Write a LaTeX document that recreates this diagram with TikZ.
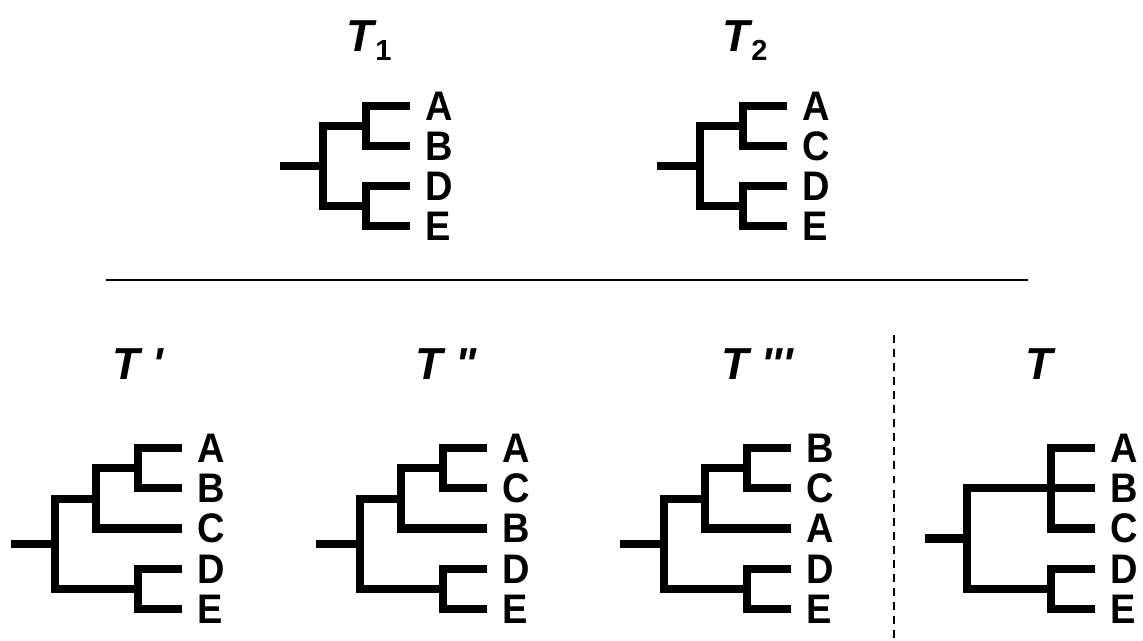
\documentclass[tikz,border=0pt]{standalone}
\usepackage{fontspec}
\setmainfont{Liberation Sans}
\newfontfamily\leaffont{Liberation Sans}[FakeStretch=0.92]
\newfontfamily\titlefont{Liberation Sans}
\tikzset{
	branch/.style={line width=4.8pt},
	leaf/.style={anchor=west, inner xsep=8.5pt, inner ysep=0pt, font=\leaffont\bfseries\fontsize{23.5}{23.5}\selectfont},
	treename/.style={anchor=base west, inner sep=0pt, font=\titlefont\bfseries\itshape\fontsize{25.5}{25.5}\selectfont}
}
\newcommand{\subnum}[1]{{\upshape\fontsize{16.5}{16.5}\selectfont\raisebox{-0.17cm}{#1}}}

\begin{document}
\begin{tikzpicture}[x=0.02cm, y=-0.02cm]
			%%%%% START %%%%%
			\useasboundingbox (0,0) rectangle (1143,641);
			
			%%%%% T1 %%%%%
			\node[treename] (n1) at (346,52) {T\kern1pt\subnum{1}};
			\coordinate (t1s) at (280,166);
			\coordinate (t1r) at (323,166);
			\coordinate (t1ab) at (366,126);
			\coordinate (t1de) at (366,206);
			\node[leaf] (t1A) at (410,106) {A};
			\node[leaf] (t1B) at (410,146) {B};
			\node[leaf] (t1D) at (410,186) {D};
			\node[leaf] (t1E) at (410,226) {E};
			\draw[branch] (t1A.west) -| (t1ab) |- (t1B.west);
			\draw[branch] (t1D.west) -| (t1de) |- (t1E.west);
			\draw[branch] (t1ab) -| (t1r) |- (t1de);
			\draw[branch] (t1s) -- (t1r);
			
			%%%%% T2 %%%%%
			\node[treename] (n2) at (722,52) {T\kern1pt\subnum{2}};
			\coordinate (t2s) at (657,166);
			\coordinate (t2r) at (700,166);
			\coordinate (t2ac) at (743,126);
			\coordinate (t2de) at (743,206);
			\node[leaf] (t2A) at (787,106) {A};
			\node[leaf] (t2C) at (787,146) {C};
			\node[leaf] (t2D) at (787,186) {D};
			\node[leaf] (t2E) at (787,226) {E};
			\draw[branch] (t2A.west) -| (t2ac) |- (t2C.west);
			\draw[branch] (t2D.west) -| (t2de) |- (t2E.west);
			\draw[branch] (t2ac) -| (t2r) |- (t2de);
			\draw[branch] (t2s) -- (t2r);
			
			%%%%% separators %%%%%
			\coordinate (rl) at (106,280);
			\coordinate (rr) at (1028,280);
			\draw[line width=1.1pt] (rl) -- (rr);
			\coordinate (dt) at (894,335);
			\coordinate (db) at (894,641);
			\draw[line width=1.1pt, dash pattern=on 4.5pt off 3.5pt] (dt) -- (db);
			
			%%%%% T' %%%%%
			\node[treename] (na) at (112,380) {T '};
			\coordinate (tas) at (11,544);
			\coordinate (tar) at (55,544);
			\coordinate (taabc) at (96,499);
			\coordinate (taab) at (138,468);
			\coordinate (tade) at (138,589);
			\node[leaf] (taA) at (182,448) {A};
			\node[leaf] (taB) at (182,488) {B};
			\node[leaf] (taC) at (182,528.5) {C};
			\node[leaf] (taD) at (182,569) {D};
			\node[leaf] (taE) at (182,609) {E};
			\draw[branch] (taA.west) -| (taab) |- (taB.west);
			\draw[branch] (taab) -| (taabc) |- (taC.west);
			\draw[branch] (taD.west) -| (tade) |- (taE.west);
			\draw[branch] (taabc) -| (tar) |- (tade);
			\draw[branch] (tas) -- (tar);
			
			%%%%% T'' %%%%%
			\node[treename] (nb) at (415,380) {T "};
			\coordinate (tbs) at (316,544);
			\coordinate (tbr) at (360,544);
			\coordinate (tbacb) at (401,499);
			\coordinate (tbac) at (443,468);
			\coordinate (tbde) at (443,589);
			\node[leaf] (tbA) at (487,448) {A};
			\node[leaf] (tbC) at (487,488) {C};
			\node[leaf] (tbB) at (487,528.5) {B};
			\node[leaf] (tbD) at (487,569) {D};
			\node[leaf] (tbE) at (487,609) {E};
			\draw[branch] (tbA.west) -| (tbac) |- (tbC.west);
			\draw[branch] (tbac) -| (tbacb) |- (tbB.west);
			\draw[branch] (tbD.west) -| (tbde) |- (tbE.west);
			\draw[branch] (tbacb) -| (tbr) |- (tbde);
			\draw[branch] (tbs) -- (tbr);
			
			%%%%% T''' %%%%%
			\node[treename] (nc) at (721,380) {T '''};
			\coordinate (tcs) at (620,544);
			\coordinate (tcr) at (664,544);
			\coordinate (tcbca) at (705,499);
			\coordinate (tcbc) at (747,468);
			\coordinate (tcde) at (747,589);
			\node[leaf] (tcB) at (791,448) {B};
			\node[leaf] (tcC) at (791,488) {C};
			\node[leaf] (tcA) at (791,528.5) {A};
			\node[leaf] (tcD) at (791,569) {D};
			\node[leaf] (tcE) at (791,609) {E};
			\draw[branch] (tcB.west) -| (tcbc) |- (tcC.west);
			\draw[branch] (tcbc) -| (tcbca) |- (tcA.west);
			\draw[branch] (tcD.west) -| (tcde) |- (tcE.west);
			\draw[branch] (tcbca) -| (tcr) |- (tcde);
			\draw[branch] (tcs) -- (tcr);
			
			%%%%% T %%%%%
			\node[treename] (nd) at (1025,380) {T};
			\coordinate (tds) at (925,538.5);
			\coordinate (tdr) at (967,538.5);
			\coordinate (tdabc) at (1051,488);
			\coordinate (tdde) at (1051,589);
			\node[leaf] (tdA) at (1095,448) {A};
			\node[leaf] (tdB) at (1095,488) {B};
			\node[leaf] (tdC) at (1095,528.5) {C};
			\node[leaf] (tdD) at (1095,569) {D};
			\node[leaf] (tdE) at (1095,609) {E};
			\draw[branch] (tdA.west) -| (tdabc) |- (tdC.west);
			\draw[branch] (tdabc) -- (tdB.west);
			\draw[branch] (tdD.west) -| (tdde) |- (tdE.west);
			\draw[branch] (tdabc) -| (tdr) |- (tdde);
			\draw[branch] (tds) -- (tdr);
			
			%%%%% END %%%%%
\end{tikzpicture}
\end{document}
